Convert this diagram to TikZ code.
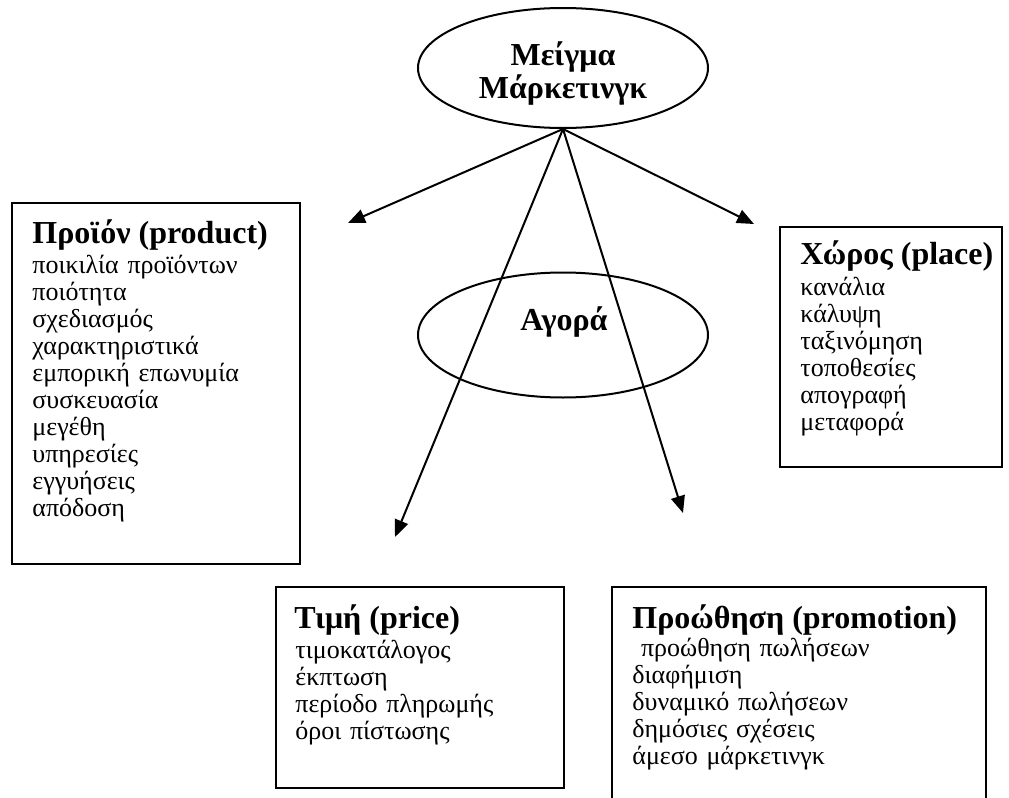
\documentclass[tikz,border=0pt]{standalone}
\usepackage{fontspec}
\setmainfont{Liberation Serif}
\usetikzlibrary{arrows.meta,shapes.geometric}
\begin{document}
\begin{tikzpicture}[x=0.5pt,y=-0.5pt,>={Triangle[length=8.5pt,width=7pt]},
  frame/.style={draw,line width=1pt,rectangle,anchor=north west,inner sep=0pt},
  oval/.style={draw,line width=1pt,ellipse,inner sep=0pt,minimum width=145pt},
  head/.style={font=\fontsize{16}{16.5}\selectfont\bfseries,inner sep=0pt},
  items/.style={font=\fontsize{13}{13.5}\selectfont,inner sep=0pt,text width=150pt,align=left,anchor=base west}]
\clip (0,0) rectangle (1009,798);
\node[oval,minimum height=60pt] (mix) at (563,68) {};
\node[head,align=center,text width=100pt,anchor=base] (mixtext) at (563,65) {Μείγμα\\Μάρκετινγκ};
\node[oval,minimum height=62.5pt] (market) at (563,335) {};
\node[head,anchor=base] (markettext) at (564,330) {Αγορά};
\node[frame,minimum width=144pt,minimum height=180.5pt] (product) at (11,202) {};
\node[frame,minimum width=111pt,minimum height=120pt] (place) at (779,226) {};
\node[frame,minimum width=144pt,minimum height=100.5pt] (price) at (275,586) {};
\node[frame,minimum width=187pt,minimum height=115pt] (promotion) at (611,586) {};
\node[head,anchor=base west] (producthead) at (32,243) {Προϊόν (product)};
\node[items] (productlist) at (32,273) {ποικιλία προϊόντων\\ποιότητα\\σχεδιασμός\\χαρακτηριστικά\\εμπορική επωνυμία\\συσκευασία\\μεγέθη\\υπηρεσίες\\εγγυήσεις\\απόδοση};
\node[head,anchor=base west] (placehead) at (800,264) {Χώρος (place)};
\node[items] (placelist) at (800,295) {κανάλια\\κάλυψη\\ταξινόμηση\\τοποθεσίες\\απογραφή\\μεταφορά};
\node[head,anchor=base west] (pricehead) at (294,628) {Τιμή (price)};
\node[items] (pricelist) at (295,658) {τιμοκατάλογος\\έκπτωση\\περίοδο πληρωμής\\όροι πίστωσης};
\node[head,anchor=base west] (promotionhead) at (632,628) {Προώθηση (promotion)};
\node[items] (promotionlist) at (632,656) {\ προώθηση πωλήσεων\\διαφήμιση\\δυναμικό πωλήσεων\\δημόσιες σχέσεις\\άμεσο μάρκετινγκ};
\coordinate (producttip) at (348,223);
\coordinate (placetip) at (754,224);
\coordinate (pricetip) at (395,537);
\coordinate (promotiontip) at (683,513);
\draw[->,line width=1pt] (mix.south) -- (producttip);
\draw[->,line width=1pt] (mix.south) -- (placetip);
\draw[->,line width=1pt] (mix.south) -- (pricetip);
\draw[->,line width=1pt] (mix.south) -- (promotiontip);
\end{tikzpicture}
\end{document}
